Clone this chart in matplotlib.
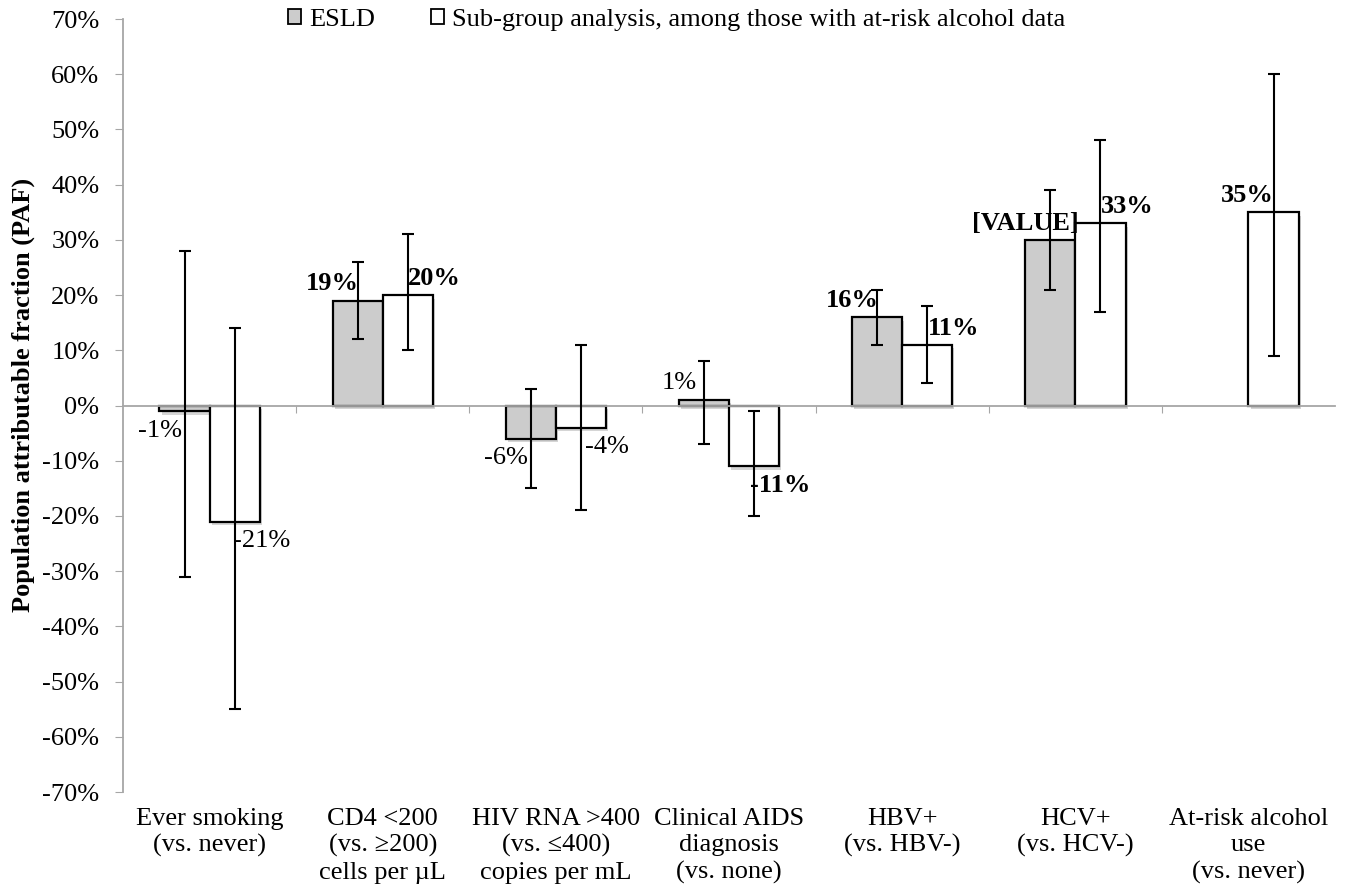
import numpy as np
import matplotlib
matplotlib.use('Agg')
import matplotlib.pyplot as plt
from matplotlib.patches import Patch
from matplotlib.ticker import FuncFormatter
import matplotlib.patheffects as pe

categories = [
    "Ever smoking\n(vs. never)",
    "CD4 <200\n(vs. \u2265200)\ncells per \u00b5L",
    "HIV RNA >400\n(vs. \u2264400)\ncopies per mL",
    "Clinical AIDS\ndiagnosis\n(vs. none)",
    "HBV+\n(vs. HBV-)",
    "HCV+\n(vs. HCV-)",
    "At-risk alcohol\nuse\n(vs. never)",
]

# PAF values (%), NaN = not estimated
esld = [-1, 19, -6, 1, 16, 30, np.nan]
esld_lo = [-31, 12, -15, -7, 11, 21, np.nan]
esld_hi = [28, 26, 3, 8, 21, 39, np.nan]
sub = [-21, 20, -4, -11, 11, 33, 35]
sub_lo = [-55, 10, -19, -20, 4, 17, 9]
sub_hi = [14, 31, 11, -1, 18, 48, 60]

esld_text = ["-1%", "19%", "-6%", "1%", "16%", "[VALUE]", ""]
sub_text = ["-21%", "20%", "-4%", "-11%", "11%", "33%", "35%"]
esld_bold = [False, True, False, False, True, True, False]
sub_bold = [False, True, False, True, True, True, True]
sub_side = [1, 1, 1, 1, 1, 1, -1]

plt.rcParams['font.family'] = 'Liberation Serif'
AXIS_GREY = '#a6a6a6'
FS = 19

fig = plt.figure(figsize=(13.45, 8.88), dpi=100)
ax = fig.add_axes([0.0915, 0.108, 0.9011, 0.8706])

x = np.arange(len(categories))
w = 0.29
shadow = [pe.SimplePatchShadow(offset=(1.5, -2.5), shadow_rgbFace='#888888', alpha=0.35), pe.Normal()]

esld_arr = np.array(esld, dtype=float)
sub_arr = np.array(sub, dtype=float)
ax.bar(x - w / 2, esld_arr, w, color='#cccccc', edgecolor='black', linewidth=1.6,
       path_effects=shadow, zorder=2)
ax.bar(x + w / 2, sub_arr, w, color='white', edgecolor='black', linewidth=1.6,
       path_effects=shadow, zorder=2)

e_err = np.array([esld_arr - np.array(esld_lo, dtype=float), np.array(esld_hi, dtype=float) - esld_arr])
s_err = np.array([sub_arr - np.array(sub_lo), np.array(sub_hi) - sub_arr])
ax.errorbar(x - w / 2, esld_arr, yerr=e_err, fmt='none', ecolor='black', elinewidth=1.5,
            capsize=4.5, capthick=1.5, zorder=3)
ax.errorbar(x + w / 2, sub_arr, yerr=s_err, fmt='none', ecolor='black', elinewidth=1.5,
            capsize=4.5, capthick=1.5, zorder=3)

# data labels, Excel-style: beside the bar end
for i in range(len(x)):
    if not np.isnan(esld_arr[i]):
        v = esld_arr[i]
        ax.annotate(esld_text[i], (x[i] - w / 2, v), xytext=(-18, 12 if v >= 0 else -14),
                    textcoords='offset points', ha='center', va='center', fontsize=FS,
                    fontweight='bold' if esld_bold[i] else 'normal', zorder=4)
    v = sub_arr[i]
    ax.annotate(sub_text[i], (x[i] + w / 2, v), xytext=(19 * sub_side[i], 12 if v >= 0 else -14),
                textcoords='offset points', ha='center', va='center', fontsize=FS,
                fontweight='bold' if sub_bold[i] else 'normal', zorder=4)

ax.set_xlim(-0.5, len(x) - 0.5)
ax.set_ylim(-70, 70)
ax.set_yticks(np.arange(-70, 71, 10))
ax.yaxis.set_major_formatter(FuncFormatter(lambda v, p: f"{int(round(v))}%"))
ax.set_xticks(np.arange(0.5, len(x) - 0.5, 1))
ax.set_xticklabels([])

for s in ['top', 'right']:
    ax.spines[s].set_visible(False)
ax.spines['bottom'].set_position(('data', 0))
ax.spines['bottom'].set_color(AXIS_GREY)
ax.spines['left'].set_color(AXIS_GREY)
ax.spines['bottom'].set_linewidth(1.3)
ax.spines['left'].set_linewidth(1.3)
ax.tick_params(axis='y', direction='out', length=6, color=AXIS_GREY, labelsize=FS, pad=11)
ax.tick_params(axis='x', direction='out', length=5, color=AXIS_GREY)

for i, c in enumerate(categories):
    ax.text(x[i], -0.02, c, transform=ax.get_xaxis_transform(), ha='center', va='top',
            fontsize=FS, linespacing=1.26)

ax.set_ylabel("Population attributable fraction (PAF)", fontsize=FS, fontweight='bold')
ax.yaxis.set_label_coords(-0.0726, 0.514)

handles = [Patch(facecolor='#cccccc', edgecolor='black', linewidth=1.3),
           Patch(facecolor='white', edgecolor='black', linewidth=1.3)]
fig.legend(handles, ["ESLD", "Sub-group analysis, among those with at-risk alcohol data"],
           loc='center', bbox_to_anchor=(0.503, 0.9775), ncol=2, frameon=False,
           fontsize=FS, handlelength=0.5, handleheight=0.5, handletextpad=0.3,
           columnspacing=2.1, borderpad=0, borderaxespad=0)

fig.savefig('out.png', dpi=100)
